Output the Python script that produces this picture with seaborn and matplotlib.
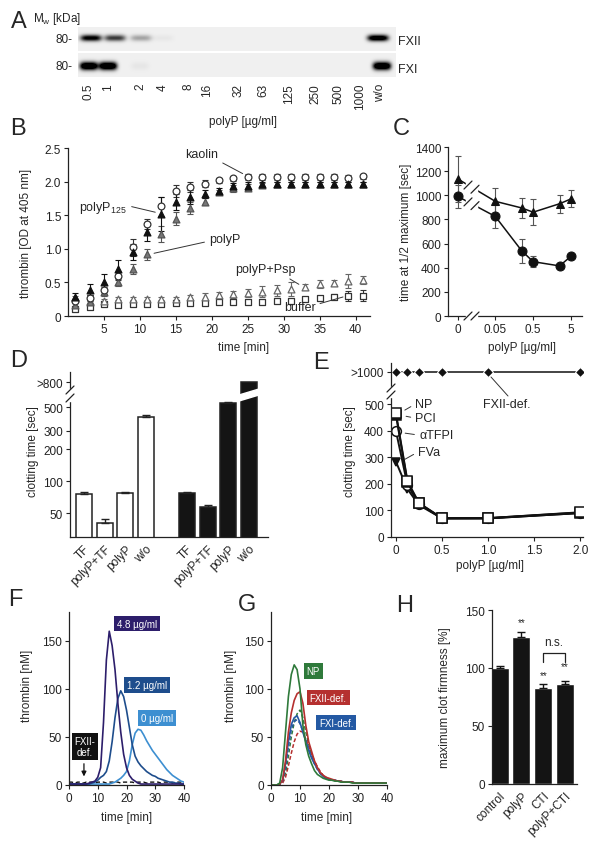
import numpy as np
import pandas as pd
import matplotlib
matplotlib.use("Agg")
import matplotlib.pyplot as plt
from matplotlib.lines import Line2D
from matplotlib.patches import Polygon, Rectangle
import seaborn as sns

# ── Data ──────────────────────────────────────────────────────────────────────
# A: immunoblot, relative band intensity per lane
a_lanes = ["0.5", "1", "2", "4", "8", "16", "32", "63", "125", "250", "500", "1000", "w/o"]
a_fxii = [0.85, 0.6, 0.25, 0.03, 0, 0, 0, 0, 0, 0, 0, 0, 1.0]
a_fxi = [1.0, 1.0, 0.03, 0, 0, 0, 0, 0, 0, 0, 0, 0, 1.0]

# B: thrombin generation (OD 405 nm)
b_time = [1, 3, 5, 7, 9, 11, 13, 15, 17, 19, 21, 23, 25, 27, 29, 31, 33, 35, 37, 39, 41]
b_kaolin = [0.22, 0.27, 0.38, 0.59, 1.02, 1.37, 1.63, 1.86, 1.92, 1.97, 2.02, 2.05, 2.07, 2.07, 2.07, 2.07, 2.07, 2.07, 2.07, 2.06, 2.08]
b_kaolin_err = [0.03, 0.04, 0.05, 0.06, 0.12, 0.08, 0.14, 0.09, 0.08, 0.05, 0.04, 0.04, 0.04, 0.04, 0.04, 0.04, 0.04, 0.04, 0.04, 0.04, 0.04]
b_p125 = [0.29, 0.39, 0.51, 0.70, 0.95, 1.25, 1.52, 1.70, 1.77, 1.81, 1.86, 1.93, 1.94, 1.96, 1.96, 1.96, 1.96, 1.96, 1.96, 1.96, 1.96]
b_p125_err = [0.05, 0.08, 0.12, 0.13, 0.12, 0.14, 0.25, 0.12, 0.10, 0.06, 0.04, 0.05, 0.06, 0.04, 0.04, 0.04, 0.04, 0.04, 0.04, 0.04, 0.04]
b_polyp = [0.17, 0.21, 0.35, 0.50, 0.70, 0.92, 1.22, 1.45, 1.61, 1.70, 1.85, 1.90, 1.91, 1.95, 1.96, 1.96, 1.97, 1.97, 1.97, 1.97, 1.97]
b_polyp_err = [0.03, 0.03, 0.05, 0.05, 0.08, 0.08, 0.12, 0.10, 0.09, 0.05, 0.03, 0.05, 0.05, 0.03, 0.03, 0.03, 0.03, 0.03, 0.03, 0.03, 0.03]
b_psp = [0.27, 0.22, 0.22, 0.26, 0.26, 0.26, 0.26, 0.26, 0.28, 0.28, 0.31, 0.32, 0.34, 0.36, 0.38, 0.40, 0.43, 0.47, 0.49, 0.52, 0.54]
b_psp_err = [0.03, 0.03, 0.03, 0.02, 0.02, 0.02, 0.02, 0.02, 0.03, 0.06, 0.04, 0.05, 0.06, 0.08, 0.08, 0.10, 0.05, 0.06, 0.04, 0.10, 0.06]
b_buffer = [0.10, 0.14, 0.18, 0.17, 0.18, 0.18, 0.18, 0.19, 0.19, 0.19, 0.21, 0.21, 0.21, 0.21, 0.23, 0.23, 0.26, 0.27, 0.29, 0.30, 0.30]
b_buffer_err = [0.02, 0.02, 0.02, 0.02, 0.02, 0.02, 0.02, 0.02, 0.02, 0.02, 0.02, 0.02, 0.02, 0.02, 0.04, 0.02, 0.02, 0.02, 0.04, 0.07, 0.08]

# C: time at 1/2 maximum
c_conc = [0, 0.05, 0.25, 0.5, 2.5, 5]
c_tri = [1135, 950, 895, 860, 930, 970]
c_tri_err = [190, 110, 80, 110, 75, 70]
c_circ = [990, 825, 540, 450, 415, 495]
c_circ_err = [95, 95, 97, 45, 25, 15]

# D: clotting times (open = first group, filled = second group)
d_cond = ["TF", "polyP+TF", "polyP", "w/o"]
d_open = [76, 41, 77, 402]
d_open_err = [4, 3, 2, 20]
d_filled = [78, 58, 545, 800]
d_filled_err = [1, 2, 10, 0]

# E: clotting time vs polyP
e_conc = [0, 0.125, 0.25, 0.5, 1.0, 2.0]
e_np = [465, 210, 128, 71, 71, 93]
e_np_err = [12, 10, 18, 8, 8, 8]
e_pci = [458, 205, 126, 70, 71, 92]
e_tfpi = [398, 195, 125, 70, 70, 90]
e_fva = [283, 180, 120, 70, 70, 90]
e_fxii = [1000, 1000, 1000, 1000, 1000, 1000]

# F: thrombin generation curves
f_time = list(range(0, 41))
f_48 = [1, 1, 1, 1, 1, 1, 1, 2, 3, 4, 8, 18, 65, 130, 160, 145, 120, 85, 55, 32, 18, 10, 6, 4, 2,
        1, 1, 1, 1, 1, 1, 1, 1, 1, 1, 1, 1, 1, 1, 1, 1]
f_12 = [1, 1, 1, 1, 1, 1, 1, 1, 2, 3, 5, 8, 10, 14, 25, 45, 70, 90, 98, 92, 78, 60, 42, 30, 24,
        20, 17, 14, 12, 10, 9, 7, 6, 5, 4, 3, 3, 2, 2, 1, 1]
f_0 = [1, 1, 1, 1, 1, 1, 1, 1, 1, 1, 1, 1, 1, 1, 1, 2, 3, 5, 7, 10, 14, 25, 42, 54, 58,
       57, 52, 46, 41, 36, 32, 28, 24, 20, 16, 13, 10, 8, 6, 4, 3]
f_fxii = [3, 3, 2, 3, 3, 2, 3, 3, 3, 2, 3, 3, 3, 2, 3, 3, 3, 3, 2, 3, 3, 3, 3, 2, 3,
          3, 3, 2, 3, 3, 3, 3, 2, 3, 3, 3, 2, 3, 3, 3, 3]

# G: thrombin generation, solid / dashed replicates
g_time = list(range(0, 41))
g_np = [0, 0, 0, 2, 18, 55, 92, 115, 125, 120, 100, 62, 42, 30, 22, 15, 11, 9, 7, 6, 5,
        5, 4, 4, 3, 3, 3, 3, 2, 2, 2, 2, 2, 2, 2, 2, 2, 2, 2, 2, 2]
g_np_b = [0, 0, 0, 1, 3, 12, 30, 50, 65, 74, 78, 70, 55, 42, 32, 24, 18, 13, 10, 8, 6,
          5, 5, 4, 4, 3, 3, 3, 3, 2, 2, 2, 2, 2, 2, 2, 2, 2, 2, 2, 2]
g_fxii = [0, 0, 0, 1, 5, 25, 55, 75, 88, 95, 97, 85, 62, 45, 35, 25, 18, 13, 10, 8, 7,
          6, 5, 4, 4, 3, 3, 3, 3, 2, 2, 2, 2, 2, 2, 2, 2, 2, 2, 2, 2]
g_fxii_b = [0, 0, 0, 0, 2, 8, 20, 33, 45, 53, 56, 55, 48, 40, 32, 25, 19, 14, 10, 8, 6,
            5, 5, 4, 4, 3, 3, 3, 3, 2, 2, 2, 2, 2, 2, 2, 2, 2, 2, 2, 2]
g_fxi = [0, 0, 0, 1, 5, 22, 45, 63, 70, 72, 65, 55, 45, 36, 28, 22, 17, 12, 9, 7, 6,
         5, 5, 4, 4, 3, 3, 3, 3, 2, 2, 2, 2, 2, 2, 2, 2, 2, 2, 2, 2]
g_fxi_b = [0, 0, 0, 1, 4, 18, 40, 58, 66, 68, 64, 56, 46, 37, 29, 22, 16, 12, 9, 7, 6,
           5, 5, 4, 4, 3, 3, 3, 3, 2, 2, 2, 2, 2, 2, 2, 2, 2, 2, 2, 2]

# H: maximum clot firmness
h_cond = ["control", "polyP", "CTI", "polyP+CTI"]
h_val = [100, 127, 83, 86]
h_err = [1.5, 4, 3, 3]
h_sig = ["", "**", "**", "**"]

# ── Style ─────────────────────────────────────────────────────────────────────
sns.set_style("ticks")
plt.rcParams["font.family"] = ["Liberation Sans", "DejaVu Sans"]
plt.rcParams["font.size"] = 8.5
plt.rcParams["axes.linewidth"] = 0.9
plt.rcParams["axes.edgecolor"] = "#222222"
plt.rcParams["xtick.color"] = "#222222"
plt.rcParams["ytick.color"] = "#222222"
plt.rcParams["mathtext.default"] = "regular"

W, H = 600, 845
fig = plt.figure(figsize=(6, 8.45), dpi=100)


def fx(x):
    return x / W


def fy(y):
    return 1 - y / H


def add_ax(l, t, r, b):
    return fig.add_axes([fx(l), fy(b), (r - l) / W, (b - t) / H])


def ftext(x, y, s, **kw):
    fig.text(fx(x), fy(y), s, **kw)


def fline(xs, ys, **kw):
    fig.add_artist(Line2D([fx(v) for v in xs], [fy(v) for v in ys], **kw))


def frect(l, t, r, b):
    fig.add_artist(Rectangle((fx(l), fy(b)), (r - l) / W, (b - t) / H,
                             transform=fig.transFigure, color="white", zorder=8))


def slash(x, y):
    fline([x - 4, x + 4], [y + 4, y - 4], color="#222222", lw=0.9, zorder=9)


def style(ax):
    ax.tick_params(length=3, width=0.8, labelsize=8.5, pad=2)
    sns.despine(ax=ax)


# panel letters
for letter, (x, y) in {"A": (19, 22), "B": (18, 129), "C": (401, 129), "D": (19, 361),
                       "E": (321, 363), "F": (15, 600), "G": (247, 605), "H": (405, 606)}.items():
    ftext(x, y, letter, fontsize=17, ha="center", va="center")

# ══════════════════════════════════════════════════════════════════════════════
# A — blot
# ══════════════════════════════════════════════════════════════════════════════
lane_x = [89, 108, 140, 163, 188, 207, 239, 263, 289, 315, 338, 360, 380]
band_fxii_x = [91, 115, 141, 163, 188, 207, 239, 263, 289, 315, 338, 360, 378]
band_fxi_x = [89, 108, 140, 163, 188, 207, 239, 263, 289, 315, 338, 360, 382]

ax = add_ax(78, 28, 396, 78)
xs = np.arange(78, 396) + 0.5
ys = np.arange(28, 78) + 0.5
X, Y = np.meshgrid(xs, ys)
img = np.full(X.shape, 0.06)
for cx, v in zip(band_fxii_x, a_fxii):
    img += 1.2 * v * np.exp(-np.abs((X - cx) / 10.5) ** 4) * np.exp(-((Y - 39) / 3.2) ** 2)
for cx, v in zip(band_fxi_x, a_fxi):
    img += 1.4 * v * np.exp(-np.abs((X - cx) / 9) ** 4) * np.exp(-((Y - 67) / 4.0) ** 2)
img[(Y > 52) & (Y < 54)] = 0
img = np.clip(img, 0, 1)
ax.imshow(img, cmap="gray_r", vmin=0, vmax=1, extent=(78, 396, 78, 28),
          aspect="auto", interpolation="bilinear")
ax.axis("off")

ftext(33, 19, r"M$_w$ [kDa]", fontsize=8.5, ha="left", va="center")
ftext(73, 40, "80-", ha="right", va="center", fontsize=8.5)
ftext(73, 67, "80-", ha="right", va="center", fontsize=8.5)
ftext(398, 42, "FXII", ha="left", va="center", fontsize=9)
ftext(398, 70, "FXI", ha="left", va="center", fontsize=9)
for x, lab in zip(lane_x, a_lanes):
    ftext(x, 84, lab, rotation=90, ha="center", va="top", fontsize=8.5)
ftext(243, 122, "polyP [µg/ml]", ha="center", va="center", fontsize=8.5)

# ══════════════════════════════════════════════════════════════════════════════
# B — chromogenic thrombin
# ══════════════════════════════════════════════════════════════════════════════
ax = add_ax(68, 149, 370, 317)
b_series = [
    (b_buffer, b_buffer_err, "s", "white", "#333333"),
    (b_psp, b_psp_err, "^", "white", "#666666"),
    (b_polyp, b_polyp_err, "^", "#777777", "#555555"),
    (b_kaolin, b_kaolin_err, "o", "white", "#333333"),
    (b_p125, b_p125_err, "^", "#111111", "#111111"),
]
for vals, err, mk, fc, ec in b_series:
    ax.errorbar(b_time, vals, yerr=err, fmt="none", ecolor=ec, elinewidth=0.8, capsize=2, capthick=0.8)
    sns.scatterplot(x=b_time, y=vals, marker=mk, s=24, color=fc, edgecolor=ec,
                    linewidth=0.9, ax=ax, zorder=3)
ax.set_xlim(0, 42)
ax.set_ylim(0, 2.5)
ax.set_xticks([5, 10, 15, 20, 25, 30, 35, 40])
ax.set_yticks([0, 0.5, 1.0, 1.5, 2.0, 2.5])
ax.set_yticklabels(["0", "0.5", "1.0", "1.5", "2.0", "2.5"])
ax.set_xlabel("time [min]", fontsize=8.5)
ax.set_ylabel("thrombin [OD at 405 nm]", fontsize=8.5)
ax.yaxis.set_label_coords(-0.12, 0.5)
ax.xaxis.set_label_coords(0.58, -0.15)
style(ax)
arr = dict(arrowstyle="-", lw=0.7, color="#333333", shrinkA=1, shrinkB=3)
ax.annotate("kaolin", xy=(24.8, 2.09), xytext=(18.6, 2.41), ha="center", va="center", fontsize=9,
            arrowprops=dict(arr, relpos=(0.9, 0.1)))
ax.annotate(r"polyP$_{125}$", xy=(12.7, 1.53), xytext=(4.9, 1.62), ha="center", va="center",
            fontsize=9, arrowprops=dict(arr, relpos=(1, 0.6)))
ax.annotate("polyP", xy=(11.4, 0.92), xytext=(21.8, 1.15), ha="center", va="center", fontsize=9,
            arrowprops=dict(arr, relpos=(0, 0.3)))
ax.annotate("polyP+Psp", xy=(32.6, 0.44), xytext=(27.4, 0.70), ha="center", va="center", fontsize=9,
            arrowprops=dict(arr, relpos=(0.8, 0)))
ax.annotate("buffer", xy=(38.8, 0.30), xytext=(32.2, 0.13), ha="center", va="center", fontsize=9,
            arrowprops=dict(arr, relpos=(1, 0.7)))

# ══════════════════════════════════════════════════════════════════════════════
# C — time at 1/2 maximum, broken log axis
# ══════════════════════════════════════════════════════════════════════════════
C_ZERO = -2.29


def c_pos(c):
    return np.log10(c) if c > 0 else C_ZERO


ax = add_ax(448, 148, 582, 317)
cx = [c_pos(c) for c in c_conc]
for vals, err, mk, ms in [(c_tri, c_tri_err, "^", 6), (c_circ, c_circ_err, "o", 6.5)]:
    ax.errorbar(cx, vals, yerr=err, fmt="none", ecolor="#555555", elinewidth=0.8, capsize=2, capthick=0.8)
    sns.lineplot(x=cx, y=vals, marker=mk, markersize=ms, color="#111111", lw=1.1,
                 markeredgecolor="#111111", ax=ax, zorder=3)
ax.set_xlim(-2.55, 0.99)
ax.set_ylim(0, 1400)
ax.set_yticks(range(0, 1401, 200))
ax.set_xticks([C_ZERO, np.log10(0.05), np.log10(0.5), np.log10(5)])
ax.set_xticklabels(["0", "0.05", "0.5", "5"])
ax.set_xlabel("polyP [µg/ml]", fontsize=8.5)
ax.set_ylabel("time at 1/2 maximum [sec]", fontsize=8.5)
ax.yaxis.set_label_coords(-0.27, 0.5)
ax.xaxis.set_label_coords(0.55, -0.15)
style(ax)
# axis break between 0 and 0.05
frect(466, 170, 477, 320)
for bx in (468, 475):
    p = -2.55 + (bx - 448) / 134 * 3.54
    slash(bx, 317)
    for vals in (c_tri, c_circ):
        yv = np.interp(p, [cx[0], cx[1]], [vals[0], vals[1]])
        slash(bx, 317 - yv / 1400 * 169)

# ══════════════════════════════════════════════════════════════════════════════
# D — clotting times, log axis with break
# ══════════════════════════════════════════════════════════════════════════════
d_df = pd.DataFrame({
    "slot": ["o" + c for c in d_cond] + ["f" + c for c in d_cond],
    "time": d_open + d_filled,
    "group": ["open"] * 4 + ["filled"] * 4,
})
d_order = ["o" + c for c in d_cond] + ["gap"] + ["f" + c for c in d_cond]
d_pal = {"open": "white", "filled": "#141414"}

axl = add_ax(70, 396, 268, 538)
axu = add_ax(70, 373, 268, 396)
for a in (axl, axu):
    sns.barplot(data=d_df, x="slot", y="time", hue="group", order=d_order, palette=d_pal,
                dodge=False, width=0.78, saturation=1, edgecolor="#222222", linewidth=1.1,
                errorbar=None, legend=False, ax=a)
    a.set_xlim(-0.68, 8.93)
    a.set_xlabel("")
    a.set_ylabel("")
axl.errorbar([0, 1, 2, 3], d_open, yerr=[[0] * 4, d_open_err], fmt="none", ecolor="#222222",
             elinewidth=1, capsize=3, capthick=1)
axl.errorbar([5, 6, 7, 8], d_filled, yerr=[[0] * 4, d_filled_err], fmt="none", ecolor="#222222",
             elinewidth=1, capsize=3, capthick=1)
axl.set_yscale("log")
axl.set_ylim(30, 650)
axl.set_yticks([50, 100, 200, 300, 500])
axl.set_yticklabels(["50", "100", "200", "300", "500"])
axl.yaxis.set_minor_locator(matplotlib.ticker.NullLocator())
axl.set_xticks(range(9))
axl.set_xticklabels(d_cond + [""] + d_cond, rotation=45, ha="right", rotation_mode="anchor")
axl.set_xticks([4], minor=True)
style(axl)
axl.tick_params(axis="x", length=0, pad=4)
axl.tick_params(axis="x", which="minor", length=3, width=0.8)
axu.set_ylim(743.5, 843.5)
axu.set_yticks([800])
axu.set_yticklabels([">800"])
axu.set_xticks([])
style(axu)
axu.spines["bottom"].set_visible(False)
ftext(33, 452, "clotting time [sec]", rotation=90, ha="center", va="center", fontsize=8.5)
# break marks
fig.add_artist(Polygon([(fx(239), fy(402)), (fx(259), fy(396)), (fx(259), fy(390)), (fx(239), fy(396))],
                       closed=True, transform=fig.transFigure, color="white", zorder=8))
frect(65, 390, 75, 402)
slash(70, 391)
slash(70, 399)

# ══════════════════════════════════════════════════════════════════════════════
# E — clotting time vs polyP
# ══════════════════════════════════════════════════════════════════════════════
axl = add_ax(391, 396, 583, 538)
axu = add_ax(391, 364, 583, 389)
sns.lineplot(x=e_conc, y=e_fxii, marker="D", markersize=5, color="#111111", lw=1.1, ax=axu)
axl.errorbar(e_conc, e_np, yerr=e_np_err, fmt="none", ecolor="#222222", elinewidth=0.8, capsize=2)
e_series = [
    (e_fva, "v", "#111111", 6),
    (e_tfpi, "o", "white", 7),
    (e_pci, "s", "#111111", 7),
    (e_np, "s", "white", 7),
]
for vals, mk, fc, ms in e_series:
    sns.lineplot(x=e_conc, y=vals, marker=mk, markersize=ms, color="#111111", lw=1.4,
                 markerfacecolor=fc, markeredgecolor="#111111", markeredgewidth=1.1, ax=axl)
for a in (axl, axu):
    a.set_xlim(-0.054, 2.03)
axl.set_ylim(0, 534)
axl.set_yticks([0, 100, 200, 300, 400, 500])
axl.set_xticks([0, 0.5, 1.0, 1.5, 2.0])
axl.set_xticklabels(["0", "0.5", "1.0", "1.5", "2.0"])
style(axl)
axu.set_ylim(936, 1036)
axu.set_yticks([1000])
axu.set_yticklabels([">1000"])
axu.set_xticks([])
style(axu)
axu.spines["bottom"].set_visible(False)
ftext(350, 452, "clotting time [sec]", rotation=90, ha="center", va="center", fontsize=8.5)
ftext(490, 566, "polyP [µg/ml]", ha="center", va="center", fontsize=8.5)
arr = dict(arrowstyle="-", lw=0.7, color="#333333", shrinkA=1, shrinkB=2)
for lab, xy, xt in [("NP", (0.07, 472), (0.21, 500)), ("PCI", (0.08, 456), (0.21, 447)),
                    ("αTFPI", (0.07, 392), (0.25, 383)), ("FVa", (0.07, 287), (0.24, 320))]:
    axl.annotate(lab, xy=xy, xytext=xt, ha="left", va="center", fontsize=9,
                 arrowprops=dict(arr, relpos=(0, 0.5)))
axl.text(0.95, 500, "FXII-def.", ha="left", va="center", fontsize=9)
fline([491, 508], [378, 397], color="#333333", lw=0.7, zorder=9)
frect(386, 388, 396, 398)
slash(391, 389)
slash(391, 396)

# ══════════════════════════════════════════════════════════════════════════════
# F — thrombin generation with polyP
# ══════════════════════════════════════════════════════════════════════════════
ax = add_ax(69, 613, 184, 786)
sns.lineplot(x=f_time, y=f_fxii, color="#111111", lw=1, dashes=(3, 2), ax=ax)
f_cols = {"0 µg/ml": "#3d8fd1", "1.2 µg/ml": "#1e4d8c", "4.8 µg/ml": "#2d1e6b"}
for vals, lab in [(f_0, "0 µg/ml"), (f_12, "1.2 µg/ml"), (f_48, "4.8 µg/ml")]:
    sns.lineplot(x=f_time, y=vals, color=f_cols[lab], lw=1.2, ax=ax)
ax.set_xlim(0, 40)
ax.set_ylim(0, 180)
ax.set_xticks([0, 10, 20, 30, 40])
ax.set_yticks([0, 50, 100, 150])
ax.set_xlabel("time [min]", fontsize=8.5)
ax.set_ylabel("thrombin [nM]", fontsize=8.5)
ax.yaxis.set_label_coords(-0.31, 0.58)
ax.xaxis.set_label_coords(0.5, -0.15)
style(ax)
for lab, (x, y) in {"4.8 µg/ml": (23.7, 168), "1.2 µg/ml": (27.1, 104), "0 µg/ml": (30.6, 70)}.items():
    ax.text(x, y, lab, color="white", fontsize=7, ha="center", va="center",
            bbox=dict(boxstyle="square,pad=0.3", fc=f_cols[lab], ec="none"))
ax.text(5.6, 40, "FXII-\ndef.", color="white", fontsize=7, ha="center", va="center", linespacing=1.1,
        bbox=dict(boxstyle="square,pad=0.3", fc="#111111", ec="none"))
ax.annotate("", xy=(5.2, 6), xytext=(5.2, 25),
            arrowprops=dict(arrowstyle="-|>", lw=0.9, color="#111111", mutation_scale=7))

# ══════════════════════════════════════════════════════════════════════════════
# G — thrombin generation in deficient plasma
# ══════════════════════════════════════════════════════════════════════════════
ax = add_ax(271, 613, 387, 786)
g_cols = {"NP": "#2f7a3b", "FXII-def.": "#b5302f", "FXI-def.": "#2459a3"}
for vals, lab in [(g_np_b, "NP"), (g_fxii_b, "FXII-def."), (g_fxi_b, "FXI-def.")]:
    sns.lineplot(x=g_time, y=vals, color=g_cols[lab], lw=1.1, dashes=(2.5, 1.5), ax=ax)
for vals, lab in [(g_fxi, "FXI-def."), (g_fxii, "FXII-def."), (g_np, "NP")]:
    sns.lineplot(x=g_time, y=vals, color=g_cols[lab], lw=1.2, ax=ax)
ax.set_xlim(0, 40)
ax.set_ylim(0, 180)
ax.set_xticks([0, 10, 20, 30, 40])
ax.set_yticks([0, 50, 100, 150])
ax.set_xlabel("time [min]", fontsize=8.5)
ax.set_ylabel("thrombin [nM]", fontsize=8.5)
ax.yaxis.set_label_coords(-0.29, 0.58)
ax.xaxis.set_label_coords(0.48, -0.15)
style(ax)
for lab, (x, y) in {"NP": (14.5, 119), "FXII-def.": (19.7, 91), "FXI-def.": (22.4, 65)}.items():
    ax.text(x, y, lab, color="white", fontsize=7, ha="center", va="center",
            bbox=dict(boxstyle="square,pad=0.3", fc=g_cols[lab], ec="none"))

# ══════════════════════════════════════════════════════════════════════════════
# H — maximum clot firmness
# ══════════════════════════════════════════════════════════════════════════════
ax = add_ax(492, 611, 577, 785)
sns.barplot(x=h_cond, y=h_val, color="#141414", saturation=1, width=0.83, errorbar=None, ax=ax)
ax.errorbar(range(4), h_val, yerr=[[0] * 4, h_err], fmt="none", ecolor="#141414",
            elinewidth=1, capsize=3, capthick=1)
for i, (v, e, s) in enumerate(zip(h_val, h_err, h_sig)):
    if s:
        ax.text(i, v + e + 4 if i != 3 else v + e + 8, s, ha="center", va="bottom", fontsize=7)
ax.plot([2, 2, 3, 3], [105, 113, 113, 105], color="#222222", lw=0.9)
ax.text(2.5, 117, "n.s.", ha="center", va="bottom", fontsize=8.5)
ax.set_xlim(-0.35, 3.55)
ax.set_ylim(0, 150)
ax.set_yticks([0, 50, 100, 150])
ax.set_xticks(range(4))
ax.set_xticklabels(h_cond, rotation=45, ha="right", rotation_mode="anchor")
ax.set_ylabel("maximum clot firmness [%]", fontsize=8.5)
ax.yaxis.set_label_coords(-0.48, 0.5)
style(ax)
ax.tick_params(axis="x", length=0, pad=4)

fig.savefig("out.png", dpi=100)
